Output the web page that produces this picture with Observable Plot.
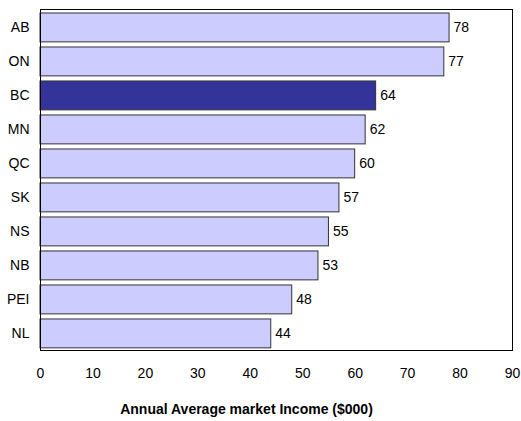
<!DOCTYPE html>
<html>
<head>
<meta charset="utf-8">
<script src="https://cdn.jsdelivr.net/npm/d3@7"></script>
<script src="https://cdn.jsdelivr.net/npm/@observablehq/plot@0.6"></script>
<style>
  body { margin: 0; background: #fff; }
  svg { font-family: "Liberation Sans", Arial, sans-serif; }
</style>
</head>
<body>
<div id="chart"></div>
<script>
const provinces = ["AB", "ON", "BC", "MN", "QC", "SK", "NS", "NB", "PEI", "NL"];
const incomes = [78, 77, 64, 62, 60, 57, 55, 53, 48, 44];
const highlight = "BC";
const xTicks = [0, 10, 20, 30, 40, 50, 60, 70, 80, 90];
const axisTitle = "Annual Average market Income ($000)";

const data = provinces.map((p, i) => ({province: p, income: incomes[i]}));

const chart = Plot.plot({
  width: 521,
  height: 421,
  marginLeft: 40,
  marginRight: 9,
  marginTop: 9,
  marginBottom: 71,
  style: {fontFamily: "Liberation Sans, Arial, sans-serif", fontSize: "14px", background: "#fff"},
  x: {domain: [0, 90]},
  y: {domain: provinces, paddingInner: 0.15, paddingOuter: 0.09, align: 0.65, round: false},
  marks: [
    Plot.barX(data, {
      x: "income", y: "province",
      fill: d => d.province === highlight ? "#333399" : "#CCCCFF",
      stroke: "#333", strokeWidth: 1
    }),
    Plot.text(data, {
      x: "income", y: "province", text: d => String(d.income),
      textAnchor: "start", dx: 4, fill: "#000", fontSize: 14
    }),
    Plot.frame({stroke: "#000", strokeWidth: 1}),
    Plot.axisY({tickSize: 0, tickPadding: 11, label: null, fontSize: 14, fill: "#000"}),
    Plot.axisX({ticks: xTicks, tickSize: 0, tickPadding: 18, label: null, fontSize: 14, fill: "#000", tickFormat: d => String(d)}),
    Plot.text([axisTitle], {
      frameAnchor: "bottom", dx: -30, dy: 63, fontWeight: "bold", fontSize: 14, fill: "#000"
    })
  ]
});
document.getElementById("chart").append(chart);
</script>
</body>
</html>
